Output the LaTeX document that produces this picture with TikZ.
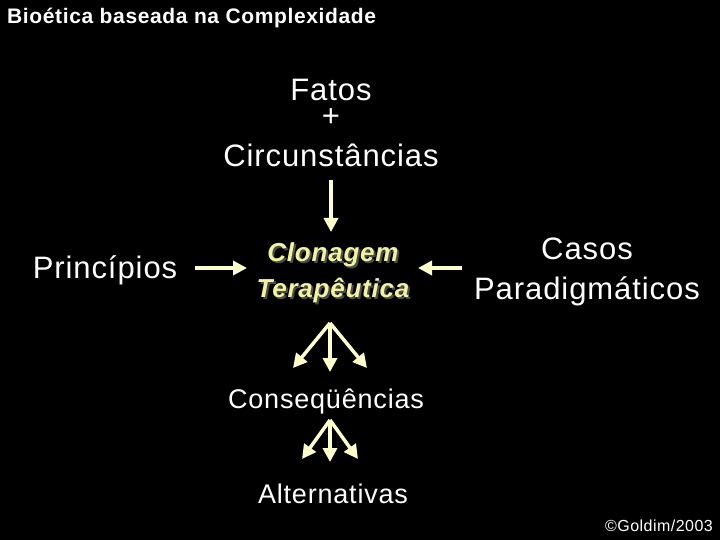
\documentclass[tikz,border=0pt]{standalone}
\usepackage{fontspec}
\setmainfont{Liberation Sans}[LetterSpace=3]
\definecolor{arr}{HTML}{FFFFCC}
\definecolor{clo}{HTML}{F2F2A0}
\usetikzlibrary{arrows.meta}
\begin{document}
\begin{tikzpicture}[x=1pt,y=-1pt,
  txt/.style={text=white,inner sep=0pt,align=center},
  arw/.style={draw=arr,line width=3.5pt,-{Triangle[length=14pt,width=14pt]}}]
\fill[black] (0,0) rectangle (720,540);
\useasboundingbox (0,0) rectangle (720,540);
\node[txt,anchor=west,font=\bfseries\fontsize{21}{24}\selectfont] (title) at (7,18) {Bioética baseada na Complexidade};
\node[txt,font=\fontsize{31}{34}\selectfont] at (331,90) (fatos) {Fatos};
\node[txt,font=\fontsize{31}{34}\selectfont] at (331,118) (plus) {+};
\node[txt,font=\fontsize{31}{34}\selectfont] at (331,155) (circ) {Circunstâncias};
\node[txt,font=\fontsize{31}{34}\selectfont] (princ) at (105,270) {Princípios};
\node[txt,text=black!70,font=\bfseries\itshape\fontsize{26}{36}\selectfont] at (335,275) {Clonagem\\Terapêutica};
\node[txt,text=clo,font=\bfseries\itshape\fontsize{26}{36}\selectfont] (clon) at (333,273) {Clonagem\\Terapêutica};
\node[txt,font=\fontsize{31}{40}\selectfont] (casos) at (587,272) {Casos\\Paradigmáticos};
\node[txt,font=\fontsize{27}{28}\selectfont] (cons) at (326,401) {Conseqüências};
\node[txt,font=\fontsize{27}{28}\selectfont] (alt) at (333,494) {Alternativas};
\node[txt,font=\fontsize{16}{18}\selectfont] (copy) at (659,526) {©Goldim/2003};
\coordinate (a1) at (331,180); \coordinate (a1e) at (331,232);
\draw[arw] (a1) -- (a1e);
\coordinate (p1) at (195,268); \coordinate (p1e) at (247,268);
\draw[arw] (p1) -- (p1e);
\coordinate (c1) at (462,268); \coordinate (c1e) at (418,268);
\draw[arw] (c1) -- (c1e);
\coordinate (f1) at (330,323);
\coordinate (f1a) at (293,368); \coordinate (f1b) at (330,372); \coordinate (f1c) at (367,368);
\draw[arw] (f1) -- (f1a); \draw[arw] (f1) -- (f1b); \draw[arw] (f1) -- (f1c);
\coordinate (f2) at (330,420);
\coordinate (f2a) at (302,459); \coordinate (f2b) at (330,462); \coordinate (f2c) at (358,459);
\draw[arw] (f2) -- (f2a); \draw[arw] (f2) -- (f2b); \draw[arw] (f2) -- (f2c);
\end{tikzpicture}
\end{document}
